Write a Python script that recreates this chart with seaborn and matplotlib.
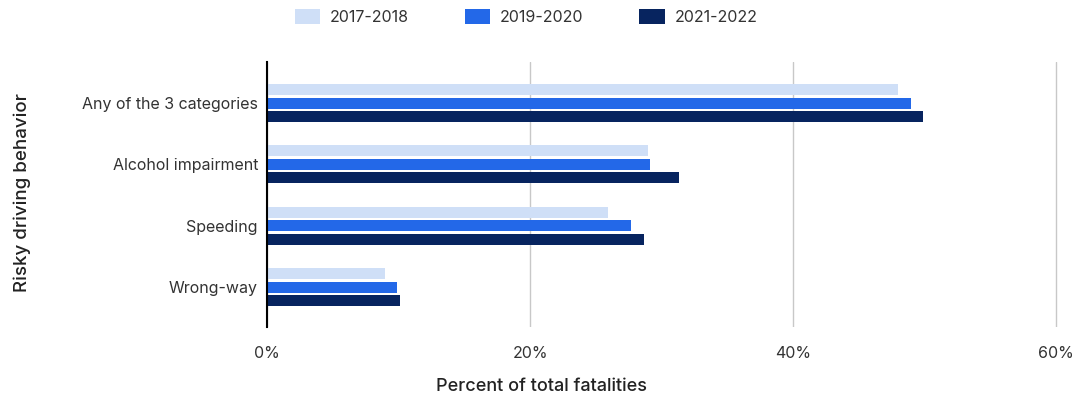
import matplotlib
matplotlib.use("Agg")
import matplotlib.pyplot as plt
import seaborn as sns
import pandas as pd

categories = ["Any of the 3 categories", "Alcohol impairment", "Speeding", "Wrong-way"]
periods = ["2017-2018", "2019-2020", "2021-2022"]
v_2017_2018 = [48.0, 29.0, 25.9, 9.0]
v_2019_2020 = [49.0, 29.1, 27.7, 9.9]
v_2021_2022 = [49.9, 31.3, 28.7, 10.1]
xticks = [0, 20, 40, 60]
xtick_labels = ["0%", "20%", "40%", "60%"]
colors = ["#cfdff7", "#2368e8", "#07245f"]

rows = []
for p, vals in zip(periods, [v_2017_2018, v_2019_2020, v_2021_2022]):
    for c, v in zip(categories, vals):
        rows.append({"Behavior": c, "Period": p, "Value": v})
df = pd.DataFrame(rows)

sns.set_theme(style="white")
plt.rcParams["font.family"] = ["Inter", "DejaVu Sans"]

fig = plt.figure(figsize=(10.78, 3.99), dpi=100)
ax = fig.add_axes([267/1078, 1-327/399, (1058-267)/1078, (327-62)/399])

sns.barplot(data=df, y="Behavior", x="Value", hue="Period", order=categories,
            hue_order=periods, palette=colors, orient="h", width=0.66, gap=0.18,
            ax=ax, errorbar=None, saturation=1, edgecolor="none", zorder=3)

ax.set_xlim(0, 60.15)
ax.set_ylim(3.65, -0.67)
ax.set_xticks(xticks)
ax.set_xticklabels(xtick_labels, fontsize=11.5, color="#333333")
ax.tick_params(axis="y", labelsize=11.5, colors="#333333", length=0, pad=6.5)
ax.tick_params(axis="x", length=0, pad=14)
for lab in ax.get_yticklabels():
    lab.set_color("#333333")
ax.xaxis.grid(True, color="#c8c8c8", linewidth=1, zorder=0)
ax.set_axisbelow(True)
for s in ["top", "right", "bottom"]:
    ax.spines[s].set_visible(False)
ax.spines["left"].set_color("black")
ax.spines["left"].set_linewidth(1.5)
ax.spines["left"].set_zorder(5)

ax.set_xlabel("Percent of total fatalities", fontsize=13, fontweight="medium", color="#222222")
ax.xaxis.set_label_coords((542-267)/791, -(378-327)/265)
ax.set_ylabel("Risky driving behavior", fontsize=13.5, fontweight="medium", color="#222222")
ax.yaxis.set_label_coords((31-267)/791, (327-193)/265)

handles, labels = ax.get_legend_handles_labels()
ax.legend(handles, labels, loc="center", bbox_to_anchor=(526/1078, 1-17/399),
          bbox_transform=fig.transFigure, ncol=3, frameon=False, fontsize=11.5,
          handlelength=1.6, handleheight=1.1, columnspacing=3.5, handletextpad=0.6,
          labelcolor="#333333")

fig.savefig("out.png", dpi=100)
